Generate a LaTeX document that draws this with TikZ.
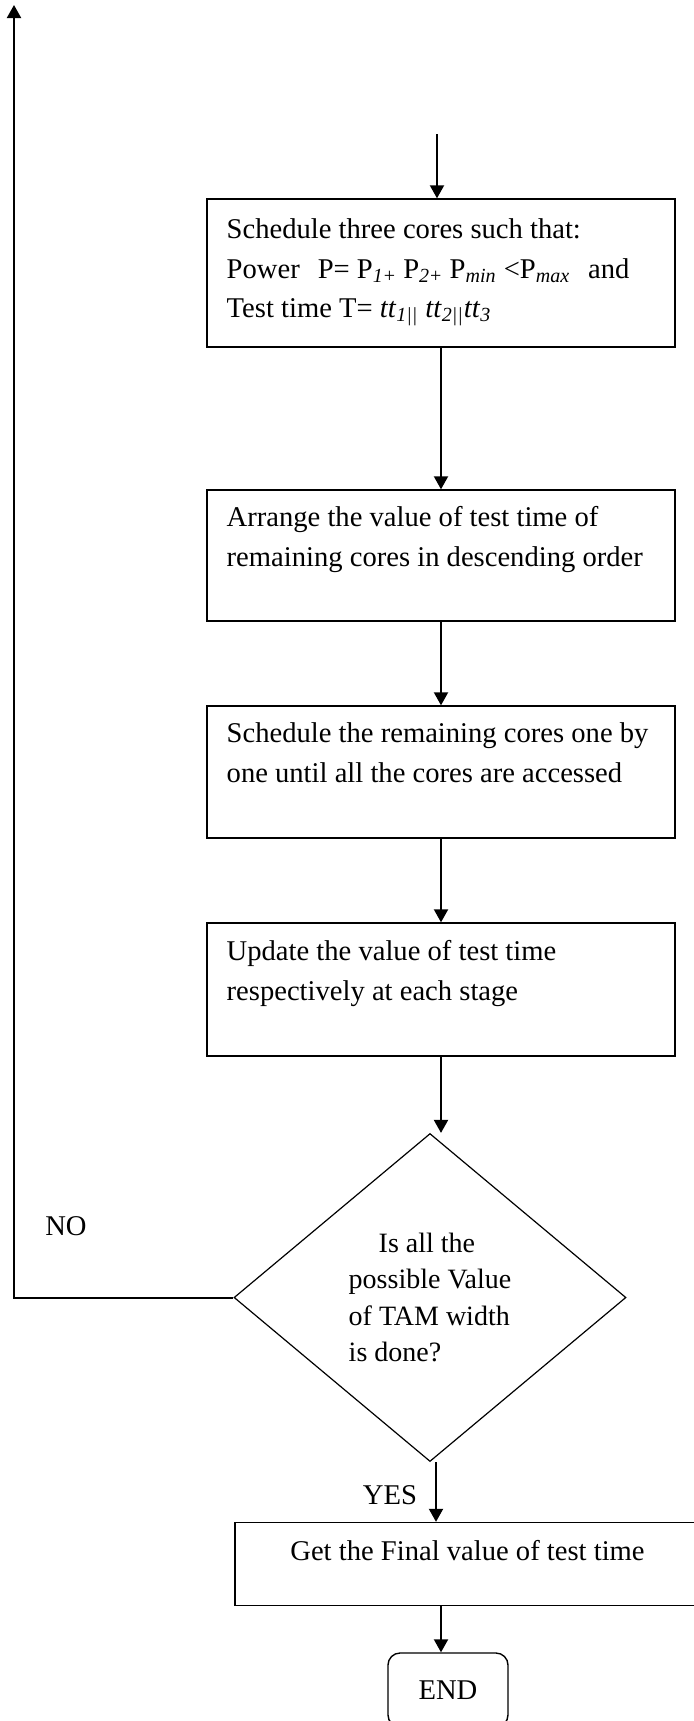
\documentclass[tikz,border=0pt]{standalone}
\usepackage{fontspec}
\setmainfont{Liberation Serif}
\usetikzlibrary{arrows.meta,shapes.geometric}

\newcommand{\boxfont}{\fontsize{14.3}{19.75}\selectfont}
\newcommand{\askfont}{\fontsize{14}{18.3}\selectfont}
\newcommand{\sub}[1]{\textsubscript{\textit{#1}}}

\tikzset{
  stepbox/.style={draw,line width=0.7pt,minimum width=234pt,inner sep=0pt},
  steptext/.style={anchor=north west,inner sep=0pt,align=flush left,font=\boxfont},
  askbox/.style={draw,diamond,line width=0.6pt,minimum width=196pt,minimum height=164pt,
    inner sep=0pt,align=flush left,font=\askfont},
  endbox/.style={draw,line width=0.7pt,rounded corners=6pt,minimum width=60pt,
    minimum height=37pt,font=\boxfont},
  arrow/.style={-{Triangle[width=7pt,length=6.5pt]},line width=1pt},
}

\begin{document}
\begin{tikzpicture}[x=0.5pt,y=-0.5pt]
\useasboundingbox (0,0) rectangle (694,1721);

\coordinate (start) at (437,134);
\coordinate (back) at (14,5);

% boxes
\node[stepbox,minimum height=74pt] (sched) at (441,273) {};
\node[stepbox,minimum height=65.5pt] (arrange) at (441,555.5) {};
\node[stepbox,minimum height=66pt] (rest) at (441,772) {};
\node[stepbox,minimum height=66.5pt] (update) at (441,989.5) {};
\node[askbox] (ask) at (430,1297.5)
  {\hspace*{15pt}Is all the\\possible Value\\of TAM width\\is done?};
\node[stepbox,minimum width=232.5pt,minimum height=41.5pt] (final) at (467.5,1564) {};
\node[endbox] (stop) at (448,1690) {END};

% box texts
\node[steptext] (schedtxt) at ([shift={(20,20)}]sched.north west)
  {Schedule three cores such that:\\
   Power\hspace*{9pt}P= P\sub{1}\textsubscript{+} P\sub{2}\textsubscript{+} P\sub{min} <P\sub{max}\hspace*{9pt}and\\
   Test time T= \textit{tt}\sub{1||} \textit{tt}\sub{2||}\textit{tt}\sub{3}};
\node[steptext] (arrangetxt) at ([shift={(20,17)}]arrange.north west)
  {Arrange the value of test time of\\remaining cores in descending order};
\node[steptext] (resttxt) at ([shift={(20,17)}]rest.north west)
  {Schedule the remaining cores one by\\one until all the cores are accessed};
\node[steptext] (updatetxt) at ([shift={(20,18)}]update.north west)
  {Update the value of test time\\respectively at each stage};
\node[steptext,anchor=north] (finaltxt) at ([shift={(0,18)}]final.north)
  {Get the Final value of test time};

\node[font=\boxfont] (no) at (66,1226) {NO};
\node[font=\boxfont] (yes) at (390,1495) {YES};

% main flow
\draw[arrow] (start) -- (start |- sched.north);
\draw[arrow] (sched) -- (arrange);
\draw[arrow] (arrange) -- (rest);
\draw[arrow] (rest) -- (update);
\draw[arrow] (update) -- (update |- ask.north);
\draw[arrow] ([xshift=3pt]ask.south) -- ([xshift=3pt]ask.south |- final.north);
\draw[arrow] (final.south -| update) -- (update |- stop.north);
% loop back
\draw[arrow] (ask.west) -| (back);
\end{tikzpicture}
\end{document}
